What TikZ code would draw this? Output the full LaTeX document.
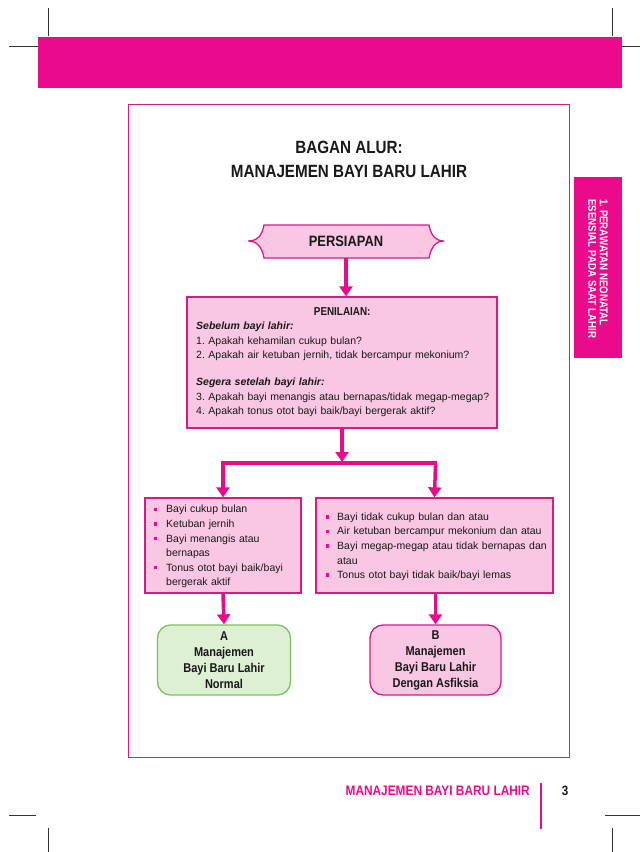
\documentclass[tikz,border=0pt]{standalone}
\usepackage{fontspec}
\setmainfont{Liberation Sans}
\newfontfamily\cond{Liberation Sans}[FakeStretch=0.86]
\usetikzlibrary{arrows.meta}
\frenchspacing
\definecolor{mag}{HTML}{EA0A8C}
\definecolor{edge}{HTML}{D81B84}
\definecolor{pinkfill}{HTML}{F9C6E4}
\definecolor{greenfill}{HTML}{DDF0D3}
\definecolor{greenedge}{HTML}{79C35E}
\newcommand{\bul}{\textcolor{mag}{\rule[1.8pt]{3.5pt}{3.5pt}}}
\newenvironment{blist}[2]{\begin{list}{\bul}{\setlength{\leftmargin}{#1}\setlength{\labelwidth}{6pt}\setlength{\labelsep}{#2}\setlength{\itemsep}{0pt}\setlength{\parsep}{0pt}\setlength{\topsep}{0pt}\setlength{\partopsep}{0pt}}}{\end{list}}
\tikzset{
  box/.style={draw=edge, line width=1.3pt, fill=pinkfill, inner sep=0pt},
  conn/.style={draw=mag, line width=3.5pt, -{Triangle[width=13pt,length=10pt]}},
  bar/.style={draw=mag, line width=3.5pt},
  body/.style={font=\frenchspacing\fontsize{10.5}{14.6}\selectfont, text=black!90, align=left, inner sep=0pt},
  endbox/.style={rounded corners=13pt, line width=1.3pt, minimum width=133pt, minimum height=70pt, align=center, font=\cond\bfseries\fontsize{12.8}{16}\selectfont, text=black!90},
  crop/.style={draw=black!80, line width=0.6pt}
}
\begin{document}
\begin{tikzpicture}[x=1pt,y=-1pt]
\useasboundingbox (0,0) rectangle (640,852);
\fill[white] (0,0) rectangle (640,852);
% crop marks
\draw[crop] (48,8) -- (48,36);
\draw[crop] (612,8) -- (612,36);
\draw[crop] (9,46) -- (38,46);
\draw[crop] (622,46) -- (640,46);
\draw[crop] (9,815) -- (36,815);
\draw[crop] (605,815) -- (640,815);
\draw[crop] (48,828) -- (48,852);
\draw[crop] (612,828) -- (612,852);
% top bar
\fill[mag] (38,37) rectangle (622,88);
% frame
\draw[edge, line width=0.6pt] (128,104) rectangle (569,757);
% side tab
\fill[mag] (574,177) rectangle (622,358);
\node[rotate=-90, anchor=west, align=left, text=white, inner sep=0pt, font=\cond\bfseries\fontsize{11.3}{11.5}\selectfont] (tab) at (598,199) {1. PERAWATAN NEONATAL\\ESENSIAL PADA SAAT LAHIR};
% title
\node[font=\cond\bfseries\fontsize{17.7}{24}\selectfont, align=center, text=black!90] (title) at (349,159) {BAGAN ALUR:\\MANAJEMEN BAYI BARU LAHIR};
% persiapan banner
\fill[pinkfill, draw=edge, line width=1.3pt] (264,225) -- (429,225)
  .. controls (431,236) and (436,241) .. (444,241)
  .. controls (436,241) and (431,247) .. (429,258)
  -- (264,258)
  .. controls (262,247) and (257,241) .. (248,241)
  .. controls (257,241) and (262,236) .. (264,225) -- cycle;
\node[minimum width=165pt, minimum height=33pt, inner sep=0pt, font=\cond\bfseries\fontsize{15}{16}\selectfont, text=black!90] (persiapan) at (346,241.5) {PERSIAPAN};
% penilaian
\node[box, minimum width=310pt, minimum height=131pt] (penilaian) at (342,362.5) {};
\node[body, anchor=north west, text width=295pt] (ptext) at (196,307) {\makebox[292pt]{\cond\bfseries\fontsize{11.5}{14}\selectfont PENILAIAN:}\\
\textbf{\textit{Sebelum bayi lahir:}}\\
1. Apakah kehamilan cukup bulan?\\
2. Apakah air ketuban jernih, tidak bercampur mekonium?\\[12pt]
\textbf{\textit{Segera setelah bayi lahir:}}\\
3. Apakah bayi menangis atau bernapas/tidak megap-megap?\\
4. Apakah tonus otot bayi baik/bayi bergerak aktif?};
% condition boxes
\node[box, minimum width=156pt, minimum height=95pt] (left) at (223,545.5) {};
\node[body, anchor=north west, text width=150pt] (ltext) at (151,498) {\begin{blist}{15pt}{9pt}
\item Bayi cukup bulan
\item Ketuban jernih
\item Bayi menangis atau\newline bernapas
\item Tonus otot bayi baik/bayi\newline bergerak aktif
\end{blist}};
\node[box, minimum width=237pt, minimum height=95pt] (right) at (434.5,545.5) {};
\node[body, anchor=north west, text width=230pt] (rtext) at (323,505.5) {\begin{blist}{14pt}{8pt}
\item Bayi tidak cukup bulan dan atau
\item Air ketuban bercampur mekonium dan atau
\item Bayi megap-megap atau tidak bernapas dan\newline atau
\item Tonus otot bayi tidak baik/bayi lemas
\end{blist}};
% end boxes
\node[endbox, draw=greenedge, fill=greenfill] (A) at (224,660) {A\\Manajemen\\Bayi Baru Lahir\\Normal};
\node[endbox, draw=edge, fill=pinkfill, minimum width=131pt] (B) at (435.5,660) {B\\Manajemen\\Bayi Baru Lahir\\Dengan Asfiksia};
% connectors
\coordinate (bm) at (342,463);
\coordinate (bl) at (223,463);
\coordinate (br) at (435.5,463);
\draw[conn] (persiapan.south) -- (persiapan.south |- penilaian.north);
\draw[conn, shorten >=1pt] (penilaian.south) -- (bm);
\draw[bar] ([xshift=-1.75pt]bl) -- ([xshift=1.75pt]br);
\draw[conn] (bl) -- (left.north);
\draw[conn] (br) -- (right.north);
\draw[conn] (left.south) -- (A.north);
\draw[conn] (right.south -| B.north) -- (B.north);
% footer
\node[anchor=east, text=mag, font=\cond\bfseries\fontsize{13.8}{16}\selectfont, inner sep=0pt] (foot) at (530,791) {MANAJEMEN BAYI BARU LAHIR};
\draw[mag, line width=1.5pt] (541,783) -- (541,829);
\node[font=\cond\bfseries\fontsize{13.5}{16}\selectfont, text=black!90, inner sep=0pt] (page) at (565,791) {3};
\end{tikzpicture}
\end{document}
